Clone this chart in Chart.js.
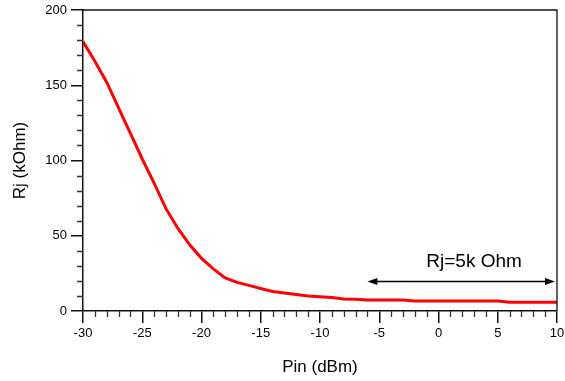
<!DOCTYPE html>
<html>
<head>
<meta charset="utf-8">
<script src="https://cdn.jsdelivr.net/npm/chart.js@4/dist/chart.umd.min.js"></script>
<style>
  html, body { margin: 0; padding: 0; background: #fff; }
  canvas { display: block; }
</style>
</head>
<body>
<canvas id="rjChart" width="565" height="381"></canvas>
<script>
// input power sweep (dBm) and junction resistance (kOhm)
const pinDbm = [-30, -29, -28, -27, -26, -25, -24, -23, -22, -21, -20, -19, -18, -17, -16, -15,
  -14, -13, -12, -11, -10, -9, -8, -7, -6, -5, -4, -3, -2, -1, 0, 1, 2, 3, 4, 5, 6, 7, 8, 9, 10];
const rjKohm = [179, 166, 152, 135, 118, 101, 85, 68, 55, 44, 35, 28, 22, 19, 17, 15,
  13, 12, 11, 10, 9.5, 9, 8, 7.8, 7.3, 7.3, 7.3, 7.3, 6.7, 6.7, 6.7, 6.7, 6.7, 6.7, 6.7, 6.7, 5.8, 5.8, 5.8, 5.8, 5.8];

const xTicks = [-30, -25, -20, -15, -10, -5, 0, 5, 10];
const yTicks = [0, 50, 100, 150, 200];

// the "Rj=5k Ohm" arrow spans this range
const arrowFrom = -6;
const arrowTo = 10;
const arrowLevel = 20;
const noteText = "Rj=5k Ohm";
const noteX = 3;
const noteY = 33;

const axisColor = "#111";
const fontFamily = "'Liberation Sans', Arial, sans-serif";

// frame, minor ticks and the arrow note
const extras = {
  id: "extras",
  afterDraw(chart) {
    const ctx = chart.ctx;
    const area = chart.chartArea;
    const xs = chart.scales.x;
    const ys = chart.scales.y;
    ctx.save();

    // top and right border
    ctx.strokeStyle = axisColor;
    ctx.lineWidth = 1.3;
    ctx.beginPath();
    ctx.moveTo(area.left, area.top);
    ctx.lineTo(area.right, area.top);
    ctx.lineTo(area.right, area.bottom);
    ctx.stroke();

    // minor ticks, outside
    ctx.lineWidth = 1.3;
    ctx.strokeStyle = "#333";
    ctx.beginPath();
    for (let v = -30; v <= 10; v++) {
      if (v % 5 === 0) continue;
      const px = Math.round(xs.getPixelForValue(v)) + 0.5;
      ctx.moveTo(px, area.bottom);
      ctx.lineTo(px, area.bottom + 6);
    }
    for (let v = 0; v <= 200; v += 10) {
      if (v % 50 === 0) continue;
      const py = Math.round(ys.getPixelForValue(v)) + 0.5;
      ctx.moveTo(area.left, py);
      ctx.lineTo(area.left - 6, py);
    }
    ctx.stroke();

    // double arrow
    const x1 = xs.getPixelForValue(arrowFrom);
    const x2 = xs.getPixelForValue(arrowTo) - 2;
    const ay = Math.round(ys.getPixelForValue(arrowLevel)) + 0.5;
    ctx.strokeStyle = "#000";
    ctx.fillStyle = "#000";
    ctx.lineWidth = 1.3;
    ctx.beginPath();
    ctx.moveTo(x1 + 4, ay);
    ctx.lineTo(x2 - 4, ay);
    ctx.stroke();
    ctx.beginPath();
    ctx.moveTo(x1, ay);
    ctx.lineTo(x1 + 10, ay - 3.5);
    ctx.lineTo(x1 + 10, ay + 3.5);
    ctx.closePath();
    ctx.fill();
    ctx.beginPath();
    ctx.moveTo(x2, ay);
    ctx.lineTo(x2 - 10, ay - 3.5);
    ctx.lineTo(x2 - 10, ay + 3.5);
    ctx.closePath();
    ctx.fill();

    ctx.font = "19px " + fontFamily;
    ctx.textAlign = "center";
    ctx.textBaseline = "middle";
    ctx.fillText(noteText, xs.getPixelForValue(noteX), ys.getPixelForValue(noteY));
    ctx.restore();
  }
};

new Chart(document.getElementById("rjChart"), {
  type: "line",
  data: {
    labels: pinDbm,
    datasets: [{
      data: pinDbm.map((x, i) => ({ x: x, y: rjKohm[i] })),
      borderColor: "#ff0000",
      borderWidth: 3,
      pointRadius: 0,
      tension: 0,
      fill: false
    }]
  },
  options: {
    responsive: false,
    animation: false,
    devicePixelRatio: 1,
    layout: { padding: { left: 6, right: 8, top: 10, bottom: 3 } },
    plugins: { legend: { display: false }, tooltip: { enabled: false } },
    scales: {
      x: {
        type: "linear",
        min: -30,
        max: 10,
        afterBuildTicks: s => { s.ticks = xTicks.map(v => ({ value: v })); },
        afterFit: s => { s.height = 67; s.paddingLeft = 0; s.paddingRight = 0; },
        grid: { drawOnChartArea: false, tickLength: 12, color: axisColor, lineWidth: 1.5 },
        border: { color: axisColor, width: 1.5 },
        ticks: { padding: 3, color: "#000", maxRotation: 0, autoSkip: false,
          font: { family: fontFamily, size: 13 } },
        title: { display: true, text: "Pin (dBm)", color: "#000",
          font: { family: fontFamily, size: 17 }, padding: { top: 0, bottom: 0 } }
      },
      y: {
        min: 0,
        max: 200,
        afterBuildTicks: s => { s.ticks = yTicks.map(v => ({ value: v })); },
        afterFit: s => { s.width = 77; s.paddingTop = 0; s.paddingBottom = 0; },
        grid: { drawOnChartArea: false, tickLength: 12, color: axisColor, lineWidth: 1.5 },
        border: { color: axisColor, width: 1.5 },
        ticks: { padding: 4, color: "#000", font: { family: fontFamily, size: 13 } },
        title: { display: true, text: "Rj (kOhm)", color: "#000",
          font: { family: fontFamily, size: 17 }, padding: { top: 4, bottom: 0 } }
      }
    }
  },
  plugins: [extras]
});
</script>
</body>
</html>
